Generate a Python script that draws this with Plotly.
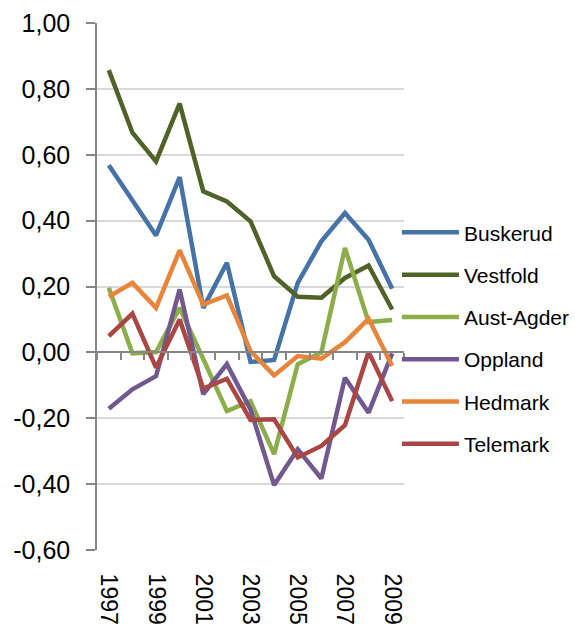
import plotly.graph_objects as go

years = ["1997", "1998", "1999", "2000", "2001", "2002", "2003",
         "2004", "2005", "2006", "2007", "2008", "2009"]
label_years = ["1997", "1999", "2001", "2003", "2005", "2007", "2009"]
y_tickvals = [-0.6, -0.4, -0.2, 0.0, 0.2, 0.4, 0.6, 0.8, 1.0]
y_ticktext = ["-0,60", "-0,40", "-0,20", "0,00", "0,20", "0,40", "0,60", "0,80", "1,00"]

buskerud = [0.568, 0.46, 0.355, 0.532, 0.135, 0.272, -0.029, -0.023, 0.211, 0.337, 0.423, 0.342, 0.193]
vestfold = [0.857, 0.667, 0.58, 0.755, 0.489, 0.458, 0.398, 0.231, 0.169, 0.166, 0.226, 0.264, 0.130]
aust_agder = [0.196, -0.003, 0.001, 0.135, -0.02, -0.178, -0.148, -0.309, -0.036, 0.0, 0.317, 0.092, 0.098]
oppland = [-0.171, -0.112, -0.072, 0.191, -0.127, -0.036, -0.173, -0.403, -0.294, -0.383, -0.077, -0.183, -0.003]
hedmark = [0.169, 0.211, 0.135, 0.31, 0.145, 0.173, 0.004, -0.07, -0.011, -0.019, 0.031, 0.102, -0.041]
telemark = [0.049, 0.118, -0.046, 0.1, -0.11, -0.08, -0.205, -0.203, -0.319, -0.284, -0.221, 0.001, -0.148]

series = [
    ("Buskerud", buskerud, "#4572A7"),
    ("Vestfold", vestfold, "#4F6228"),
    ("Aust-Agder", aust_agder, "#8CAE4A"),
    ("Oppland", oppland, "#71588F"),
    ("Hedmark", hedmark, "#E8853B"),
    ("Telemark", telemark, "#AA4643"),
]

y_range = [-0.6, 1.0]

fig = go.Figure()
for name, vals, color in series:
    fig.add_trace(go.Scatter(
        x=years, y=vals, name=name, mode="lines",
        line=dict(color=color, width=4.5),
        legendgroup=name,
    ))

# invisible trace to bind the zero-line category axis
fig.add_trace(go.Scatter(x=years, y=[None] * len(years), xaxis="x2",
                         showlegend=False, hoverinfo="skip", mode="lines"))

font = "Liberation Sans, Arial, sans-serif"
zero_pos = (0 - y_range[0]) / (y_range[1] - y_range[0])

fig.update_layout(
    width=620, height=633,
    margin=dict(l=97, r=216, t=23, b=83, autoexpand=False),
    paper_bgcolor="white", plot_bgcolor="white",
    font=dict(family=font, size=18, color="#000000"),
    showlegend=True,
    legend=dict(
        x=0.977, y=0.641, xanchor="left", yanchor="top",
        font=dict(family=font, size=21, color="#000000"),
        traceorder="grouped", tracegroupgap=12,
        itemwidth=57, bgcolor="rgba(0,0,0,0)",
    ),
    xaxis=dict(
        type="category", range=[-0.5, 12.5], automargin=False,
        tickvals=label_years, ticktext=label_years,
        tickangle=90, showgrid=False, zeroline=False, showline=False,
        ticks="outside", ticklen=18, tickcolor="rgba(0,0,0,0)",
        tickfont=dict(family=font, size=23),
    ),
    xaxis2=dict(
        type="category", range=[-0.5, 12.5], overlaying="x",
        anchor="free", position=zero_pos, side="bottom", automargin=False,
        showline=True, linecolor="#868686", linewidth=1.5,
        ticks="outside", tickson="boundaries", ticklen=7,
        tickcolor="#868686", tickwidth=1.5,
        showticklabels=False, showgrid=False, zeroline=False,
    ),
    yaxis=dict(
        range=y_range, tickvals=y_tickvals, ticktext=y_ticktext,
        automargin=False,
        showgrid=True, gridcolor="#D9D9D9", gridwidth=1.5,
        zeroline=False, showline=True, linecolor="#868686", linewidth=1.5,
        ticks="outside", ticklen=9, tickcolor="#868686", tickwidth=1.5,
        ticklabelstandoff=11,
        tickfont=dict(family=font, size=25),
    ),
)

fig.write_html(
    "out.html",
    config={"displayModeBar": False},
    post_script="document.body.style.margin='0';document.body.style.overflow='hidden';",
)
